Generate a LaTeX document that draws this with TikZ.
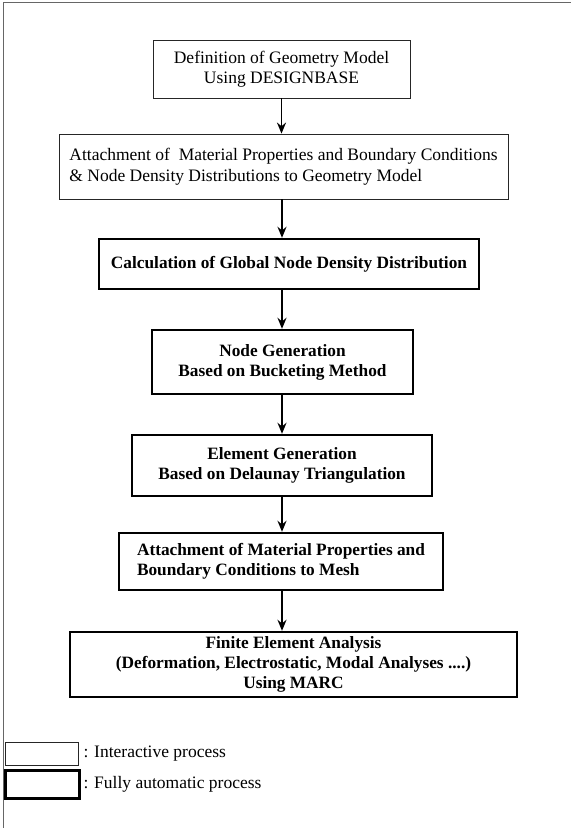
\documentclass[tikz,border=0pt]{standalone}
\usepackage{fontspec}
\setmainfont{Liberation Serif}
\usepackage{tikz}
\usetikzlibrary{arrows.meta}

\begin{document}
\begin{tikzpicture}[
    x=1pt, y=-1pt,
    % Estilo para los procesos interactivos (borde fino)
    interactivo/.style={draw=black!85, line width=0.8pt, inner sep=0pt, align=center, font=\fontsize{17.5}{20.5}\selectfont},
    % Estilo para los procesos automaticos (borde grueso)
    automatico/.style={draw=black, line width=2.4pt, inner sep=0pt, align=center, font=\fontsize{17.3}{20}\selectfont\bfseries},
    flecha/.style={-{Stealth[length=11pt, width=9pt]}, line width=1.8pt},
    leyenda/.style={anchor=west, font=\fontsize{17.5}{20}\selectfont}
]
    \useasboundingbox (0,0) rectangle (571,828);

    % --- MARCO ---
    \draw[black!60, line width=0.7pt] (3,828) -- (3,2) -- (571,2);

    % --- CAJAS DEL DIAGRAMA ---
    \node[interactivo, minimum width=257pt, minimum height=58pt] (geom) at (281.5,69)
        {Definition of Geometry Model\\Using DESIGNBASE};
    \node[interactivo, minimum width=449pt, minimum height=65pt, align=left] (attgeom) at (283.5,166.5)
        {Attachment of \ Material Properties and Boundary Conditions\\\& Node Density Distributions to Geometry Model};
    \node[automatico, minimum width=380pt, minimum height=50pt] (densidad) at (289,264)
        {Calculation of Global Node Density Distribution};
    \node[automatico, minimum width=261pt, minimum height=64pt] (nodos) at (282.5,362)
        {Node Generation\\Based on Bucketing Method};
    \node[automatico, minimum width=300pt, minimum height=61pt] (elementos) at (282,465.5)
        {Element Generation\\Based on Delaunay Triangulation};
    \node[automatico, minimum width=324pt, minimum height=57pt, align=left] (attmalla) at (281,561.5)
        {Attachment of Material Properties and\\Boundary Conditions to Mesh};
    \node[automatico, minimum width=447pt, minimum height=65pt] (fem) at (293.5,664.5)
        {Finite Element Analysis\\(Deformation, Electrostatic, Modal Analyses ....)\\Using MARC};

    % --- FLECHAS ---
    \draw[flecha] (geom.south) -- (geom.south |- attgeom.north);
    \draw[flecha] (attgeom.south -| 282,0) -- (densidad.north -| 282,0);
    \draw[flecha] (densidad.south -| 282,0) -- (nodos.north -| 282,0);
    \draw[flecha] (nodos.south -| 282,0) -- (elementos.north -| 282,0);
    \draw[flecha] (elementos.south -| 282,0) -- (attmalla.north -| 282,0);
    \draw[flecha] (attmalla.south -| 282,0) -- (fem.north -| 282,0);

    % --- LEYENDA ---
    \node[interactivo, minimum width=73pt, minimum height=23pt] (leyInter) at (41.5,753.5) {};
    \node[automatico, minimum width=74pt, minimum height=28pt] (leyAuto) at (42.5,784.5) {};
    \node[leyenda] (txtInter) at (80,753.5) {: Interactive process};
    \node[leyenda] (txtAuto) at (80,784.5) {: Fully automatic process};

\end{tikzpicture}
\end{document}
